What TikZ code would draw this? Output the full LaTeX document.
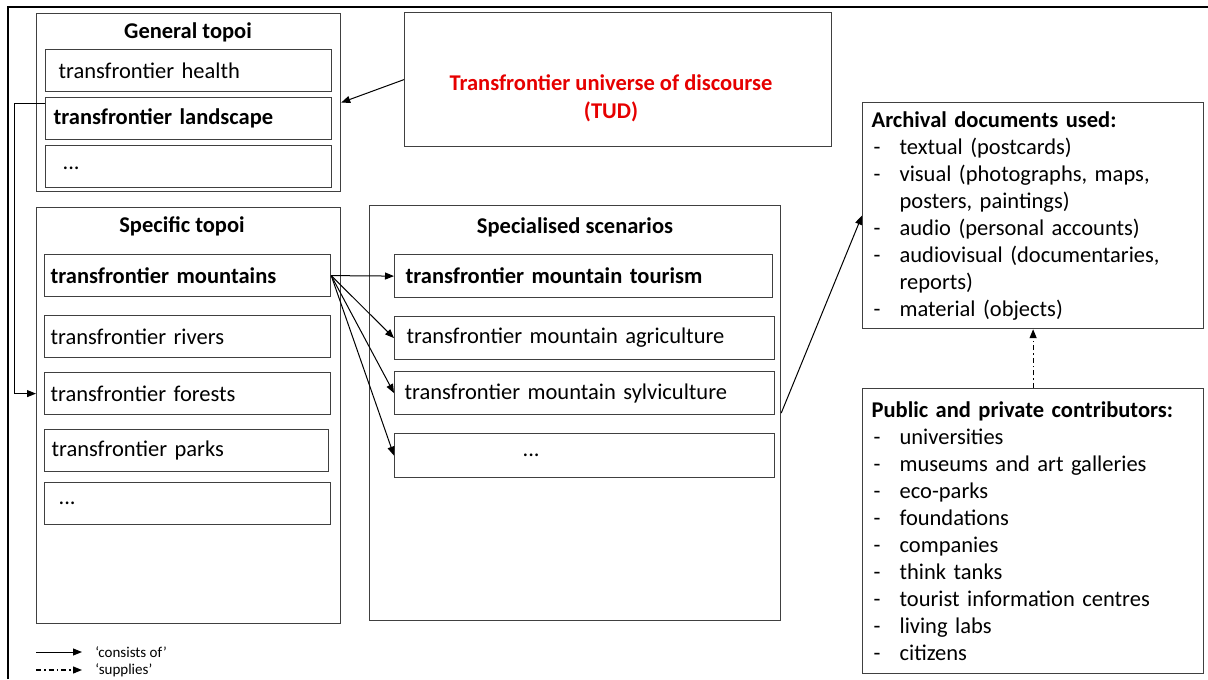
\documentclass[tikz,border=0pt]{standalone}
\usepackage{fontspec}
\setmainfont{Carlito}
\usepackage{tikz}
\usetikzlibrary{arrows.meta}
\definecolor{boxline}{RGB}{64,64,64}
\definecolor{tudred}{RGB}{230,0,0}
\newcommand{\docitem}[1]{\makebox[14pt][l]{\hspace{1pt}-}#1}

\begin{document}
\begin{tikzpicture}[
    x=0.5pt, y=-0.5pt,
    font=\fontsize{11.25}{13.5}\selectfont,
    frame/.style={%
      draw=boxline,
      line width=0.6pt,
      anchor=north west,
      inner sep=0pt,
    },
    cell/.style={%
      draw=boxline,
      line width=0.6pt,
      anchor=north west,
      align=left,
      minimum height=21pt,
      inner ysep=0pt,
    },
    head/.style={font=\fontsize{11.25}{13.5}\selectfont\bfseries},
    conn/.style={-{Triangle[length=4.5pt,width=3.5pt]}, line width=0.5pt},
    supp/.style={conn, line width=0.6pt, dash pattern=on 2.5pt off 1.5pt on 0.8pt off 1.5pt},
  ]

    \useasboundingbox (0,0) rectangle (1208,679);
    \draw [line width=0.75pt] (8,679) |- (1208,7);

    \node [frame, minimum width=152pt, minimum height=89pt] (gen) at (36,13) {};
    \node [head] (gentitle) at (188,32) {General topoi};
    \node [cell, text width=130pt, inner xsep=6.5pt] (health) at (45,49) {transfrontier health};
    \node [cell, text width=135pt, inner xsep=4pt, head] (land) at (45,97) {transfrontier landscape};
    \node [cell, text width=126pt, inner xsep=8.5pt] (gdots) at (45,145) {\raisebox{-3pt}{...}};

    \node [frame, minimum width=213.5pt, minimum height=67pt] (tud) at (404,12) {};
    \node [font=\fontsize{11.25}{14}\selectfont\bfseries, text=tudred, align=center] (tudtext) at (611,98) {Transfrontier universe of discourse\\(TUD)};

    \node [frame, minimum width=152pt, minimum height=208pt] (spec) at (36,207) {};
    \node [head] (spectitle) at (182,226) {Specific topoi};
    \node [cell, text width=137pt, inner xsep=3pt, head] (mount) at (44,254) {transfrontier mountains};
    \node [cell, text width=137pt, inner xsep=3pt] (rivers) at (44,315) {transfrontier rivers};
    \node [cell, text width=137pt, inner xsep=3pt] (forests) at (44,372) {transfrontier forests};
    \node [cell, text width=135pt, inner xsep=3.5pt] (parks) at (44,429) {transfrontier parks};
    \node [cell, text width=129pt, inner xsep=7pt] (sdots) at (44,482) {...};

    \node [frame, minimum width=205.5pt, minimum height=207.5pt] (scen) at (369,205) {};
    \node [head] (scentitle) at (575,227) {Specialised scenarios};
    \node [cell, text width=178pt, inner xsep=5.5pt, minimum height=21.5pt, head] (tour) at (394,254) {transfrontier mountain tourism};
    \node [cell, text width=178pt, inner xsep=6pt, minimum height=21.5pt] (agri) at (394,316) {transfrontier mountain agriculture};
    \node [cell, text width=180pt, inner xsep=5pt, minimum height=21.5pt] (sylv) at (394,371) {transfrontier mountain sylviculture};
    \node [cell, text width=62pt, inner xsep=64pt, minimum height=22pt] (cdots) at (394,433) {...};

    \node [cell, text width=161.5pt, inner xsep=4.5pt, minimum height=113pt] (arch) at (862,102) {%
      \textbf{Archival documents used:}\\
      \docitem{textual (postcards)}\\
      \docitem{visual (photographs, maps,}\\
      \hspace*{14pt}posters, paintings)\\
      \docitem{audio (personal accounts)}\\
      \docitem{audiovisual (documentaries,}\\
      \hspace*{14pt}reports)\\
      \docitem{material (objects)}};

    \node [cell, text width=161.5pt, inner xsep=4.5pt, minimum height=142.5pt] (pub) at (862,388) {%
      \textbf{Public and private contributors:}\\
      \docitem{universities}\\
      \docitem{museums and art galleries}\\
      \docitem{eco-parks}\\
      \docitem{foundations}\\
      \docitem{companies}\\
      \docitem{think tanks}\\
      \docitem{tourist information centres}\\
      \docitem{living labs}\\
      \docitem{citizens}};

    \draw [conn] (tud.west) -- (gen.east);
    \draw [conn] ([yshift=-3.5pt]land.north west) -- ++(-31,0) |- (forests.west -| spec.west);
    \foreach \target in {tour,agri,sylv,cdots}
      \draw [conn] (mount.east) -- (\target.west);
    \draw [conn] (scen.east) -- (arch.west);
    \draw [supp] (pub.north) -- (arch.south);

    \coordinate (lgA) at (36,652);
    \coordinate (lgB) at (36,670);
    \node [anchor=west, inner xsep=6.5pt, font=\fontsize{7.5}{8}\selectfont] (lgcons) at (82,652) {`consists of'};
    \node [anchor=west, inner xsep=6.5pt, font=\fontsize{7.5}{8}\selectfont] (lgsupp) at (82,670) {`supplies'};
    \draw [conn] (lgA) -- (lgcons.west);
    \draw [supp] (lgB) -- (lgsupp.west);
\end{tikzpicture}
\end{document}
